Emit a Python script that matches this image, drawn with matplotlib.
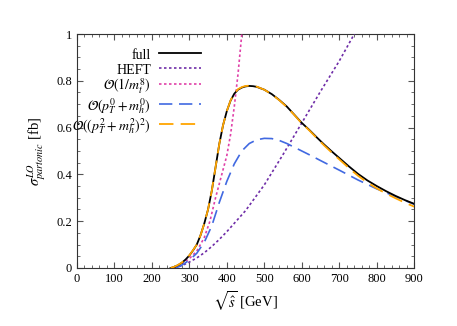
import matplotlib
matplotlib.use("Agg")
import matplotlib.pyplot as plt
from matplotlib.ticker import MultipleLocator

plt.rcParams['font.family'] = ['Liberation Serif', 'DejaVu Serif']
plt.rcParams['mathtext.fontset'] = 'stix'

# full
x_full = [250, 260, 270, 280, 290, 300, 310, 320, 330, 340, 350, 360, 370, 380, 390, 400,
          410, 420, 430, 440, 450, 460, 470, 480, 500, 520, 540, 560, 580, 600, 620, 640,
          660, 680, 700, 725, 750, 775, 800, 825, 850, 875, 900]
y_full = [0.0, 0.004, 0.012, 0.022, 0.036, 0.053, 0.075, 0.10, 0.14, 0.19, 0.25, 0.33, 0.43,
          0.53, 0.61, 0.67, 0.715, 0.745, 0.762, 0.771, 0.776, 0.778, 0.777, 0.774, 0.762,
          0.743, 0.718, 0.69, 0.655, 0.62, 0.59, 0.558, 0.527, 0.498, 0.47, 0.435, 0.402,
          0.374, 0.35, 0.328, 0.308, 0.29, 0.274]
# O((pT^2+mh^2)^2)
x_o2 = x_full
y_o2 = [0.0, 0.005, 0.013, 0.023, 0.037, 0.054, 0.076, 0.10, 0.14, 0.19, 0.25, 0.33, 0.43,
        0.53, 0.61, 0.67, 0.716, 0.746, 0.764, 0.773, 0.778, 0.779, 0.778, 0.775, 0.762,
        0.742, 0.717, 0.688, 0.654, 0.618, 0.588, 0.555, 0.523, 0.493, 0.464, 0.428, 0.394,
        0.365, 0.34, 0.318, 0.298, 0.279, 0.262]
# O(pT^0+mh^0)
x_o0 = [265, 280, 300, 320, 340, 360, 380, 400, 420, 440, 460, 480, 500, 520, 540, 560,
        580, 600, 625, 650, 700, 750, 800, 850, 900]
y_o0 = [0.0, 0.012, 0.033, 0.063, 0.11, 0.18, 0.28, 0.37, 0.445, 0.5, 0.532, 0.548, 0.554,
        0.553, 0.545, 0.532, 0.516, 0.5, 0.48, 0.459, 0.418, 0.376, 0.338, 0.305, 0.272]
# O(1/mt^8)
x_mt8 = [255, 260, 280, 300, 320, 340, 355, 370, 390, 400, 410, 420, 430, 440, 445]
y_mt8 = [0.0, 0.004, 0.018, 0.04, 0.072, 0.13, 0.2, 0.3, 0.42, 0.48, 0.57, 0.69, 0.83, 1.0, 1.09]
# HEFT
x_heft = [260, 280, 300, 320, 340, 360, 380, 400, 450, 500, 550, 600, 650, 700, 740, 750]
y_heft = [0.0, 0.01, 0.025, 0.043, 0.065, 0.092, 0.122, 0.155, 0.245, 0.355, 0.485, 0.62,
          0.755, 0.885, 1.0, 1.03]

fig = plt.figure(figsize=(4.57, 3.26), dpi=100)
ax = fig.add_axes([0.168, 0.178, 0.7386, 0.7177])

ax.plot(x_full, y_full, color='black', lw=1.3, label='full', zorder=5)
ax.plot(x_heft, y_heft, color='#6f2da8', lw=1.2, ls=(0, (1.5, 1.5)), label='HEFT', zorder=3)
ax.plot(x_mt8, y_mt8, color='#e040a8', lw=1.2, ls=(0, (1.5, 1.5)),
        label=r'$\mathcal{O}(1/m_t^8)$', zorder=3)
ax.plot(x_o0, y_o0, color='#4169e1', lw=1.2, ls=(0, (8, 4)),
        label=r'$\mathcal{O}(p_T^0+m_h^0)$', zorder=4)
ax.plot(x_o2, y_o2, color='#ffa500', lw=1.3, ls=(0, (8, 4)),
        label=r'$\mathcal{O}((p_T^2+m_h^2)^2)$', zorder=6)

ax.set_xlim(0, 900)
ax.set_ylim(0, 1)
ax.xaxis.set_major_locator(MultipleLocator(100))
ax.xaxis.set_minor_locator(MultipleLocator(20))
ax.yaxis.set_minor_locator(MultipleLocator(0.05))
ax.set_yticks([0, 0.2, 0.4, 0.6, 0.8, 1.0])
ax.set_yticklabels(['0', '0.2', '0.4', '0.6', '0.8', '1'])
ax.tick_params(which='both', direction='in', top=True, right=True, labelsize=9,
               color='#555555')
ax.tick_params(which='major', length=4)
ax.tick_params(which='minor', length=2)
for s in ax.spines.values():
    s.set_color('#333333')
    s.set_linewidth(0.8)

ax.set_xlabel(r'$\sqrt{\hat{s}}$ [GeV]', fontsize=10.5, labelpad=3)
ax.set_ylabel(r'$\sigma^{LO}_{partonic}$ [fb]', fontsize=10.5, labelpad=6)

leg = ax.legend(loc='upper right', bbox_to_anchor=(0.368, 0.946), frameon=False,
                markerfirst=False, fontsize=10, handlelength=3.0, handleheight=1.25,
                labelspacing=0.0, handletextpad=0.6, borderaxespad=0.0, borderpad=0.0)
for col in leg._legend_handle_box.get_children():
    col.align = 'right'

fig.savefig('out.png', dpi=100)
